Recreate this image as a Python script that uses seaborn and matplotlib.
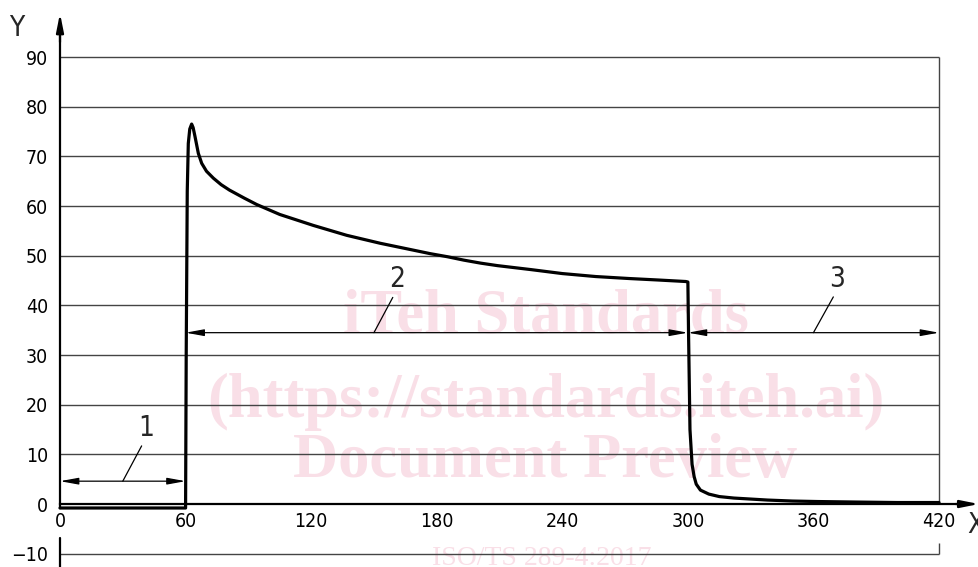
import numpy as np
import pandas as pd
import matplotlib
matplotlib.use("Agg")
import matplotlib.pyplot as plt
import seaborn as sns

# curve (time in s, value)
time_s = [0, 60, 60.3, 60.8, 61.3, 62.0, 62.9, 63.6, 64.5, 66.1, 67.7, 70, 73.3, 77, 81,
          88, 94, 105, 113, 121, 129, 137, 145, 153, 161, 169, 177, 185, 193, 201, 209,
          225, 240, 256, 272, 286, 299, 300,
          300.3, 301, 302, 303, 304, 306, 310, 315, 322, 330, 338, 350, 362, 380, 400, 420]
value = [-0.8, -0.8, 30, 63, 72.6, 75.5, 76.5, 75.8, 74, 70.6, 68.6, 67, 65.6, 64.3, 63.2,
         61.6, 60.3, 58.3, 57.2, 56.1, 55.1, 54.1, 53.3, 52.5, 51.8, 51.1, 50.4, 49.8, 49.1, 48.5, 48.0,
         47.2, 46.4, 45.8, 45.4, 45.1, 44.8, 44.7,
         35, 15, 8, 5.5, 4, 2.8, 2.0, 1.5, 1.2, 1.0, 0.8, 0.6, 0.5, 0.4, 0.3, 0.3]

x_ticks = [0, 60, 120, 180, 240, 300, 360, 420]
y_ticks = [-10, 0, 10, 20, 30, 40, 50, 60, 70, 80, 90]

# dimension arrows: (start, end, height, leader start x, leader end x, leader end y, label)
dim_start = [0, 60, 300]
dim_end = [60, 300, 420]
dim_y = [4.6, 34.5, 34.5]
lead_x0 = [30, 150, 360]
lead_x1 = [39, 159, 369.5]
lead_y1 = [11.7, 41.6, 41.7]
dim_labels = ["1", "2", "3"]

watermark = ["iTeh Standards", "(https://standards.iteh.ai)", "Document Preview"]
wm_y = [34.6, 17.5, 5.5]

sns.set_style("white")
plt.rcParams["font.family"] = ["DejaVu Sans"]
plt.rcParams["font.stretch"] = "condensed"

fig = plt.figure(figsize=(9.79, 5.67), dpi=100)
ax = fig.add_axes([0, 0, 1, 1])
ax.set_xlim(-28.67, 439.1)
ax.set_ylim(-12.68, 101.48)

# watermark behind everything
wm_color = "#f9dfe7"
for t, yy in zip(watermark, wm_y):
    ax.text(232, yy, t, ha="center", va="baseline", fontsize=45, fontweight="bold",
            family="Liberation Serif", color=wm_color, zorder=0)
ax.text(230, -12.2, "ISO/TS 289-4:2017", ha="center", va="baseline", fontsize=20,
        family="Liberation Serif", color=wm_color, zorder=0)

# grid
grid_c = "#444444"
ax.hlines([v for v in y_ticks if v != 0], 0, 420, color=grid_c, lw=1.0, zorder=1)
ax.vlines(420, 0, 90, color=grid_c, lw=1.0, zorder=1)
ax.vlines(420, -10, -7.8, color=grid_c, lw=1.0, zorder=1)

# curve
df = pd.DataFrame({"t": time_s, "v": value})
sns.lineplot(data=df, x="t", y="v", sort=False, estimator=None, color="black",
             lw=2.3, ax=ax, zorder=4)
ax.set_xlabel("")
ax.set_ylabel("")

# axes
for s in ["top", "right"]:
    ax.spines[s].set_visible(False)
ax.spines["bottom"].set_position(("data", 0))
ax.spines["left"].set_position(("data", 0))
ax.spines["bottom"].set_bounds(0, 432)
ax.spines["left"].set_bounds(-0.9, 95)
ax.spines["bottom"].set_linewidth(1.6)
ax.spines["left"].set_linewidth(1.6)
ax.spines["bottom"].set_color("black")
ax.spines["left"].set_color("black")
ax.plot([0, 0], [-6.8, -12.68], color="black", lw=1.6, clip_on=False)
ax.annotate("", xy=(439.1, 0), xytext=(428, 0),
            arrowprops=dict(arrowstyle="-|>,head_length=1.1,head_width=0.22",
                            mutation_scale=10, color="black", lw=1.6,
                            shrinkA=0, shrinkB=0))
ax.annotate("", xy=(0, 98.8), xytext=(0, 93),
            arrowprops=dict(arrowstyle="-|>,head_length=1.1,head_width=0.22",
                            mutation_scale=10, color="black", lw=1.6,
                            shrinkA=0, shrinkB=0))

ax.set_xticks(x_ticks)
ax.set_xticklabels([str(v) for v in x_ticks])
ax.set_yticks(y_ticks)
ax.set_yticklabels([str(v).replace("-", "\u2212") for v in y_ticks])
ax.tick_params(axis="x", direction="in", length=8.6, width=1.0, pad=6,
               labelsize=14, colors="black")
ax.tick_params(axis="y", length=0, pad=8.5, labelsize=14, colors="black")
ax.grid(False)

ax.text(-20.5, 95.8, "Y", ha="center", va="center", fontsize=20)
ax.text(437.5, -4.3, "X", ha="center", va="center", fontsize=20, clip_on=False)

# dimension arrows with leaders
for a, b, yy, lx0, lx1, ly1, lab in zip(dim_start, dim_end, dim_y, lead_x0,
                                        lead_x1, lead_y1, dim_labels):
    ax.annotate("", xy=(b, yy), xytext=(a, yy),
                arrowprops=dict(arrowstyle="<|-|>,head_length=1.1,head_width=0.2",
                                mutation_scale=10, color="black", lw=0.9,
                                shrinkA=0, shrinkB=0), zorder=3)
    ax.plot([lx0, lx1], [yy, ly1], color="black", lw=0.9, zorder=3)
    ax.text(lx1 + 2, ly1 + 3.7, lab, ha="center", va="center", fontsize=20)

fig.savefig("out.png", dpi=100)
